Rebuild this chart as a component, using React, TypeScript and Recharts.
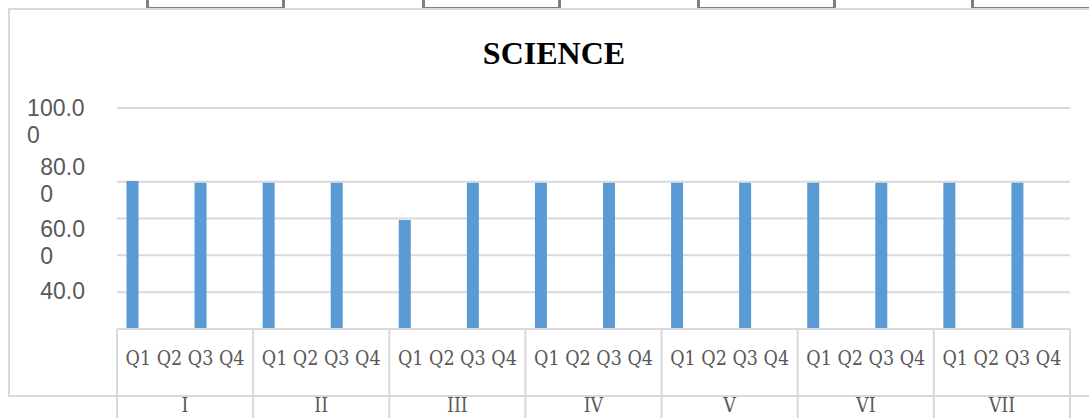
import React from 'react';
import { BarChart, Bar, XAxis, YAxis, CartesianGrid } from 'recharts';

// two slots per class, each slot holds four quarter bars (only Q1 was filled in)
const groups = ['I', 'II', 'III', 'IV', 'V', 'VI', 'VII'];
const quarterLabel = 'Q1 Q2 Q3 Q4';
const q1Scores = [80.2, 79.7, 79.7, 79.7, 69.6, 79.7, 79.7, 79.7, 79.7, 79.7, 79.7, 79.7, 79.7, 79.7];
const q2Scores = [null, null, null, null, null, null, null, null, null, null, null, null, null, null];
const q3Scores = [null, null, null, null, null, null, null, null, null, null, null, null, null, null];
const q4Scores = [null, null, null, null, null, null, null, null, null, null, null, null, null, null];
const yTicks = [40, 50, 60, 70, 80, 100];
const yLabels: Record<number, string[]> = {
    100: ['100.0', '0'],
    80: ['80.0', '0'],
    60: ['60.0', '0'],
    40: ['40.0'],
};

const data = q1Scores.map((q1, i) => ({
    grp: groups[Math.floor(i / 2)],
    q1,
    q2: q2Scores[i],
    q3: q3Scores[i],
    q4: q4Scores[i],
}));

const GRID = '#d9d9d9';
const TEXT = '#595959';
const BLUE = '#5b9bd5';
const SERIF = "'DejaVu Serif Condensed', 'DejaVu Serif', serif";

// labels in the source drift upward against the gridlines
const labelShift: Record<number, number> = { 100: 0, 80: -15, 60: -27, 40: -38 };

const YTick = (props: any) => {
    const { y, payload } = props;
    const lines = yLabels[payload.value];
    if (!lines) return null;
    const right = 86;
    const first = lines[0];
    const w = first.replace('.', '').length * 13.1 + 6.5;
    const cy = y + labelShift[payload.value];
    return (
        <text x={right - w} y={cy} fill={TEXT} fontSize={23} fontFamily="'Liberation Sans', Arial, sans-serif" textAnchor="start">
            {lines.map((l, i) => (
                <tspan key={i} x={right - w} dy={i === 0 ? '0.36em' : 27}>{l}</tspan>
            ))}
        </text>
    );
};

const QuarterTick = (props: any) => {
    const { x, y, index, payload } = props;
    const off = payload && payload.offset ? payload.offset : 34.05;
    const items = [];
    if (index % 2 === 0) {
        items.push(<line key="l" x1={x - off} x2={x - off} y1={y} y2={y + 95} stroke={GRID} strokeWidth={2} />);
        items.push(
            <text key="t" x={x + off} y={y + 29} dy="0.35em" textAnchor="middle" fill={TEXT} fontSize={19.5} fontFamily={SERIF} style={{ fontStretch: 'condensed' }}>
                {quarterLabel}
            </text>
        );
    }
    if (index === q1Scores.length - 1) {
        items.push(<line key="r" x1={x + off} x2={x + off} y1={y} y2={y + 95} stroke={GRID} strokeWidth={2} />);
    }
    return <g>{items}</g>;
};

const GroupTick = (props: any) => {
    const { x, y, payload } = props;
    return (
        <text x={x} y={y + 9} dy="0.35em" textAnchor="middle" fill={TEXT} fontSize={19.5} fontFamily={SERIF} style={{ fontStretch: 'condensed' }}>
            {payload.value}
        </text>
    );
};

const boxLefts = [146, 422, 697, 971];

export default function App() {
    return (
        <div style={{ position: 'absolute', left: 0, top: 0, width: 1089, height: 418, overflow: 'hidden', background: '#fff' }}>
            {boxLefts.map((l) => (
                <div key={l} style={{ position: 'absolute', left: l, top: -10, width: 133, height: 14, border: '3px solid #7f7f7f' }} />
            ))}
            <div style={{ position: 'absolute', left: 8, top: 8, width: 1120, height: 385, border: `2px solid ${GRID}` }} />
            <div style={{ position: 'absolute', left: 0, top: 35, width: 1108, textAlign: 'center', fontFamily: "'Liberation Serif', 'Times New Roman', serif", fontWeight: 'bold', fontSize: 32, color: '#000' }}>
                SCIENCE
            </div>
            <div style={{ position: 'absolute', left: 0, top: 0 }}>
                <BarChart width={1089} height={418} data={data} margin={{ top: 108, right: 19, left: 0, bottom: 0 }} barCategoryGap={9.5} barGap={0}>
                    <CartesianGrid vertical={false} stroke={GRID} strokeWidth={2} />
                    <YAxis domain={[40, 100]} ticks={yTicks} width={117} axisLine={false} tickLine={false} tick={<YTick />} interval={0} />
                    <XAxis dataKey="grp" height={67} tickSize={0} tickMargin={0} axisLine={{ stroke: GRID, strokeWidth: 2 }} tickLine={false} interval={0} tick={<QuarterTick />} />
                    <XAxis xAxisId="grp" dataKey="grp" allowDuplicatedCategory={false} height={22} tickSize={0} tickMargin={0} axisLine={false} tickLine={false} interval={0} tick={<GroupTick />} />
                    <Bar dataKey="q1" fill={BLUE} isAnimationActive={false} />
                    <Bar dataKey="q2" fill={BLUE} isAnimationActive={false} />
                    <Bar dataKey="q3" fill={BLUE} isAnimationActive={false} />
                    <Bar dataKey="q4" fill={BLUE} isAnimationActive={false} />
                </BarChart>
            </div>
        </div>
    );
}
